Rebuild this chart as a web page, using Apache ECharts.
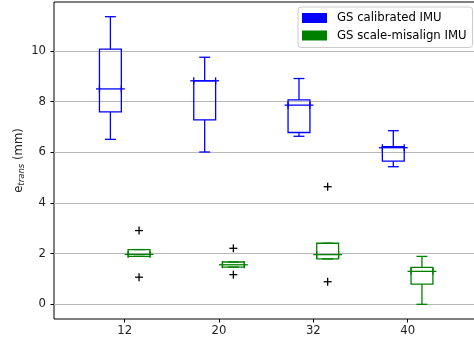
<!DOCTYPE html>
<html>
<head>
<meta charset="utf-8">
<script src="https://cdn.jsdelivr.net/npm/echarts@6/dist/echarts.min.js"></script>
<style>
  html, body { margin: 0; padding: 0; overflow: hidden; background: #fff; }
  #chart { width: 480px; height: 339px; }
</style>
</head>
<body>
<div id="chart"></div>
<script>
// Window sizes (mm) on the x axis
const categories = ['12', '20', '32', '40'];
const yTicks = [0, 2, 4, 6, 8, 10];

// GS calibrated IMU: whisker low, Q1, median, Q3, whisker high
const calibLow = [6.51, 6.01, 6.63, 5.43];
const calibQ1 = [7.59, 7.28, 6.78, 5.65];
const calibMed = [8.50, 8.82, 7.86, 6.18];
const calibQ3 = [10.07, 8.82, 8.07, 6.22];
const calibHigh = [11.35, 9.75, 8.91, 6.85];
const calibOutliers = [[], [], [], []];

// GS scale-misalign IMU
const misLow = [1.89, 1.47, 1.79, 0.00];
const misQ1 = [1.89, 1.47, 1.79, 0.80];
const misMed = [1.97, 1.56, 1.96, 1.30];
const misQ3 = [2.16, 1.67, 2.41, 1.46];
const misHigh = [2.16, 1.67, 2.41, 1.89];
const misOutliers = [[2.91, 1.07], [2.21, 1.17], [4.64, 0.89], []];

const BOX_OFFSET = 0.152;
const BOX_W = 0.232;
const FONT = 'DejaVu Sans';
const FS = 11.7;

function boxData(lo, q1, med, q3, hi) {
  return categories.map((c, i) => [i, lo[i], q1[i], med[i], q3[i], hi[i]]);
}
function outlierData(list) {
  const out = [];
  list.forEach((vals, i) => vals.forEach(v => out.push([i, v])));
  return out;
}

function boxRenderer(offset, color) {
  return function (params, api) {
    const x = api.value(0) + offset;
    const lo = api.coord([x, api.value(1)]);
    const q1 = api.coord([x, api.value(2)]);
    const med = api.coord([x, api.value(3)]);
    const q3 = api.coord([x, api.value(4)]);
    const hi = api.coord([x, api.value(5)]);
    const hw = api.size([BOX_W, 0])[0] / 2;
    const cx = lo[0];
    const style = { stroke: color, lineWidth: 1.3, fill: null };
    const line = (x1, y1, x2, y2) => ({ type: 'line', shape: { x1, y1, x2, y2 }, style });
    const children = [
      { type: 'rect', shape: { x: cx - hw, y: q3[1], width: hw * 2, height: q1[1] - q3[1] }, style },
      line(cx, q1[1], cx, lo[1]),
      line(cx, q3[1], cx, hi[1]),
      line(cx - hw / 2, lo[1], cx + hw / 2, lo[1]),
      line(cx - hw / 2, hi[1], cx + hw / 2, hi[1]),
      line(cx - hw - 3.5, med[1], cx + hw + 3.5, med[1]),
      line(cx - hw, med[1] - 3.5, cx - hw, med[1] + 3.5),
      line(cx + hw, med[1] - 3.5, cx + hw, med[1] + 3.5)
    ];
    return { type: 'group', children };
  };
}

function plusRenderer(offset) {
  return function (params, api) {
    const p = api.coord([api.value(0) + offset, api.value(1)]);
    const style = { stroke: '#000', lineWidth: 1.3 };
    return {
      type: 'group',
      children: [
        { type: 'line', shape: { x1: p[0] - 4, y1: p[1], x2: p[0] + 4, y2: p[1] }, style },
        { type: 'line', shape: { x1: p[0], y1: p[1] - 4, x2: p[0], y2: p[1] + 4 }, style }
      ]
    };
  };
}

const chart = echarts.init(document.getElementById('chart'), null, { renderer: 'canvas' });

chart.setOption({
  animation: false,
  textStyle: { fontFamily: FONT },
  grid: {
    left: 54, top: 2, right: 1.65, bottom: 20,
    show: true, borderColor: '#000', borderWidth: 1, backgroundColor: 'transparent'
  },
  legend: {
    orient: 'vertical',
    left: 298, top: 7,
    padding: [4, 6, 5, 4],
    itemGap: 3.5,
    itemWidth: 25, itemHeight: 10,
    icon: 'rect',
    backgroundColor: '#fff',
    borderColor: '#cccccc', borderWidth: 1, borderRadius: 3,
    textStyle: { fontFamily: FONT, fontSize: FS, color: '#000', lineHeight: 14, padding: [0, 0, 0, 5] },
    data: ['GS calibrated IMU', 'GS scale-misalign IMU']
  },
  xAxis: {
    type: 'value',
    min: -0.75, max: 3.75,
    splitLine: { show: false },
    axisLine: { show: false, onZero: false },
    axisTick: { show: true, length: 3.5, customValues: categories.map((c, i) => i), lineStyle: { color: '#000', width: 1 } },
    axisLabel: {
      customValues: categories.map((c, i) => i),
      formatter: v => categories[Math.round(v)],
      margin: 6, fontSize: FS, color: '#222', fontFamily: FONT
    }
  },
  yAxis: {
    type: 'value',
    min: -0.58, max: 11.93,
    name: '{e|e}{sub|trans}{n| (mm)}',
    nameLocation: 'middle',
    nameRotate: 90,
    nameGap: 28,
    nameMoveOverlap: false,
    nameTextStyle: {
      rich: {
        e: { fontSize: FS, fontFamily: FONT, color: '#222', verticalAlign: 'middle' },
        sub: { fontSize: 8.5, fontStyle: 'italic', fontFamily: FONT, color: '#222', padding: [6, 0, 0, 0], verticalAlign: 'middle' },
        n: { fontSize: FS, fontFamily: FONT, color: '#222', verticalAlign: 'middle' }
      }
    },
    axisLine: { show: false, onZero: false },
    axisTick: { show: true, length: 3.5, customValues: yTicks, lineStyle: { color: '#000', width: 1 } },
    axisLabel: { customValues: yTicks, margin: 8, fontSize: FS, color: '#222', fontFamily: FONT },
    splitLine: { show: true, lineStyle: { color: '#b8b8b8', width: 1 } }
  },
  series: [
    {
      name: 'GS calibrated IMU',
      type: 'custom',
      itemStyle: { color: '#0000ff' },
      renderItem: boxRenderer(-BOX_OFFSET, '#0000ff'),
      encode: { x: 0, y: [1, 2, 3, 4, 5] },
      data: boxData(calibLow, calibQ1, calibMed, calibQ3, calibHigh),
      z: 3
    },
    {
      name: 'GS scale-misalign IMU',
      type: 'custom',
      itemStyle: { color: '#008000' },
      renderItem: boxRenderer(BOX_OFFSET, '#008000'),
      encode: { x: 0, y: [1, 2, 3, 4, 5] },
      data: boxData(misLow, misQ1, misMed, misQ3, misHigh),
      z: 3
    },
    {
      name: 'calibrated outliers',
      type: 'custom',
      renderItem: plusRenderer(-BOX_OFFSET),
      encode: { x: 0, y: 1 },
      data: outlierData(calibOutliers),
      z: 4
    },
    {
      name: 'misalign outliers',
      type: 'custom',
      renderItem: plusRenderer(BOX_OFFSET),
      encode: { x: 0, y: 1 },
      data: outlierData(misOutliers),
      z: 4
    }
  ]
});
</script>
</body>
</html>
